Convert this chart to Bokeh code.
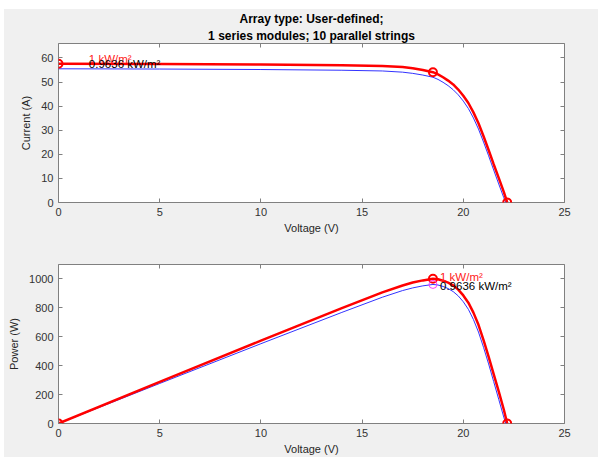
from bokeh.plotting import figure
from bokeh.layouts import column
from bokeh.models import Range1d, FixedTicker, LinearAxis, Title, Label
from bokeh.embed import file_html
from bokeh.resources import INLINE

# ---------------- data ----------------
voltage = [0, 5, 10, 14, 16, 17, 17.5, 18, 18.5, 18.75, 19, 19.25, 19.5, 19.75,
           20, 20.25, 20.5, 20.75, 21, 21.25, 21.5, 21.75, 22, 22.17]
current_1000 = [57.6, 57.5, 57.3, 57.0, 56.7, 56.2, 55.7, 55.0, 54.1, 53.2, 52.0, 50.6,
                49.0, 46.9, 44.3, 41.3, 37.4, 32.9, 27.5, 21.8, 15.9, 10.2, 4.4, 0]
power_1000 = [0, 287.5, 573, 798, 907, 955, 975, 990, 1001, 997.5, 988, 974, 955.5, 926,
              886, 836, 767, 683, 577.5, 463, 342, 222, 97, 0]

voltage_b = [0, 5, 10, 14, 16, 17, 17.5, 18, 18.5, 18.75, 19, 19.25, 19.5, 19.75,
             20, 20.25, 20.5, 20.75, 21, 21.25, 21.5, 21.75, 22, 22.1]
current_964 = [55.5, 55.4, 55.2, 54.9, 54.6, 54.1, 53.6, 52.9, 52.0, 51.1, 49.9, 48.5,
               46.8, 44.7, 42.1, 39.0, 35.1, 30.5, 25.1, 19.4, 13.5, 7.7, 2.0, 0]
power_964 = [0, 277, 552, 768.6, 873.6, 919.7, 938, 952.2, 962, 958.1, 948.1, 933.6,
             912.6, 882.8, 842, 789.8, 719.6, 632.9, 527.1, 412.3, 290.3, 167.5, 44, 0]

x_ticks = [0, 5, 10, 15, 20, 25]
current_ticks = [0, 10, 20, 30, 40, 50, 60]
power_ticks = [0, 200, 400, 600, 800, 1000]
title_lines = ["Array type: User-defined;", "1 series modules; 10 parallel strings"]
label_1000 = "1 kW/m\u00b2"
label_964 = "0.9636 kW/m\u00b2"

# ---------------- styling helpers ----------------
FONT = "Liberation Sans"
BG = "#f0f0f0"
BOX = "#808080"
TXT = "#333333"


def style_axis(ax, ticks, show_labels=True):
    ax.ticker = FixedTicker(ticks=ticks)
    ax.major_tick_in = 4
    ax.major_tick_out = 0
    ax.minor_tick_in = 0
    ax.minor_tick_out = 0
    ax.major_tick_line_color = BOX
    ax.axis_line_color = None
    ax.major_label_text_font = FONT
    ax.axis_label_text_font = FONT
    ax.axis_label_text_color = "#262626"
    ax.axis_label_text_font_style = "normal"
    ax.axis_label_text_font_size = "11px"
    if show_labels:
        ax.major_label_text_color = TXT
        ax.major_label_text_font_size = "11px"
        ax.major_label_standoff = 5
    else:
        ax.major_label_text_color = None
        ax.major_label_text_font_size = "0px"
        ax.major_label_standoff = 0


def make_fig(height, top, bottom, y_end, y_ticks, y_label):
    p = figure(width=594, height=height, output_backend="svg", toolbar_location=None,
               x_range=Range1d(0, 25), y_range=Range1d(0, y_end),
               min_border_left=54, min_border_right=34,
               min_border_top=top, min_border_bottom=bottom)
    p.background_fill_color = "white"
    p.border_fill_color = BG
    p.outline_line_color = BOX
    p.outline_line_width = 1
    p.grid.visible = False
    style_axis(p.xaxis[0], x_ticks)
    style_axis(p.yaxis[0], y_ticks)
    p.xaxis[0].axis_label = "Voltage (V)"
    p.xaxis[0].axis_label_standoff = 3
    p.yaxis[0].axis_label = y_label
    p.yaxis[0].axis_label_standoff = 6
    top_ax = LinearAxis()
    style_axis(top_ax, x_ticks, show_labels=False)
    right_ax = LinearAxis()
    style_axis(right_ax, y_ticks, show_labels=False)
    p.add_layout(top_ax, "above")
    p.add_layout(right_ax, "right")
    return p


# ---------------- top: I-V ----------------
p1 = make_fig(230, 34, 37, 66, current_ticks, "Current (A)")
for txt in reversed(title_lines):
    p1.add_layout(Title(text=txt, align="center", text_font=FONT, text_font_size="12px",
                        text_font_style="bold", text_color="#000000", standoff=1), "above")

p1.line(voltage_b, current_964, line_color="#3333ff", line_width=1)
p1.line(voltage, current_1000, line_color="#ff0000", line_width=2.5)

i_mp = power_1000.index(max(power_1000))
p1.scatter([voltage[0], voltage[i_mp], voltage[-1]],
           [current_1000[0], current_1000[i_mp], current_1000[-1]],
           marker="circle", size=8, fill_color=None, line_color="#ff0000", line_width=2)
p1.add_layout(Label(x=1.5, y=59.7, text=label_1000, text_font=FONT, text_font_size="11.5px",
                    text_color="#ff2020", text_baseline="middle"))
p1.add_layout(Label(x=1.5, y=57.4, text=label_964, text_font=FONT, text_font_size="11.5px",
                    text_color="#000000", text_baseline="middle"))

# ---------------- bottom: P-V ----------------
p2 = make_fig(218, 25, 34, 1100, power_ticks, "Power (W)")
p2.line(voltage_b, power_964, line_color="#3333ff", line_width=1)
p2.line(voltage, power_1000, line_color="#ff0000", line_width=2.5)
p2.scatter([voltage[0], voltage[i_mp], voltage[-1]],
           [power_1000[0], power_1000[i_mp], power_1000[-1]],
           marker="circle", size=8, fill_color=None, line_color="#ff0000", line_width=2)
j_mp = power_964.index(max(power_964))
p2.scatter([voltage_b[j_mp]], [power_964[j_mp]], marker="circle", size=8,
           fill_color=None, line_color="#ff40ff", line_width=1)
p2.add_layout(Label(x=18.85, y=1015, text=label_1000, text_font=FONT, text_font_size="11.5px",
                    text_color="#ff2020", text_baseline="middle"))
p2.add_layout(Label(x=18.85, y=951, text=label_964, text_font=FONT, text_font_size="11.5px",
                    text_color="#000000", text_baseline="middle"))

layout = column(p1, p2, margin=(9, 0, 0, 4), spacing=0,
                styles={"background-color": BG})
open("out.html", "w").write(file_html(layout, INLINE))
